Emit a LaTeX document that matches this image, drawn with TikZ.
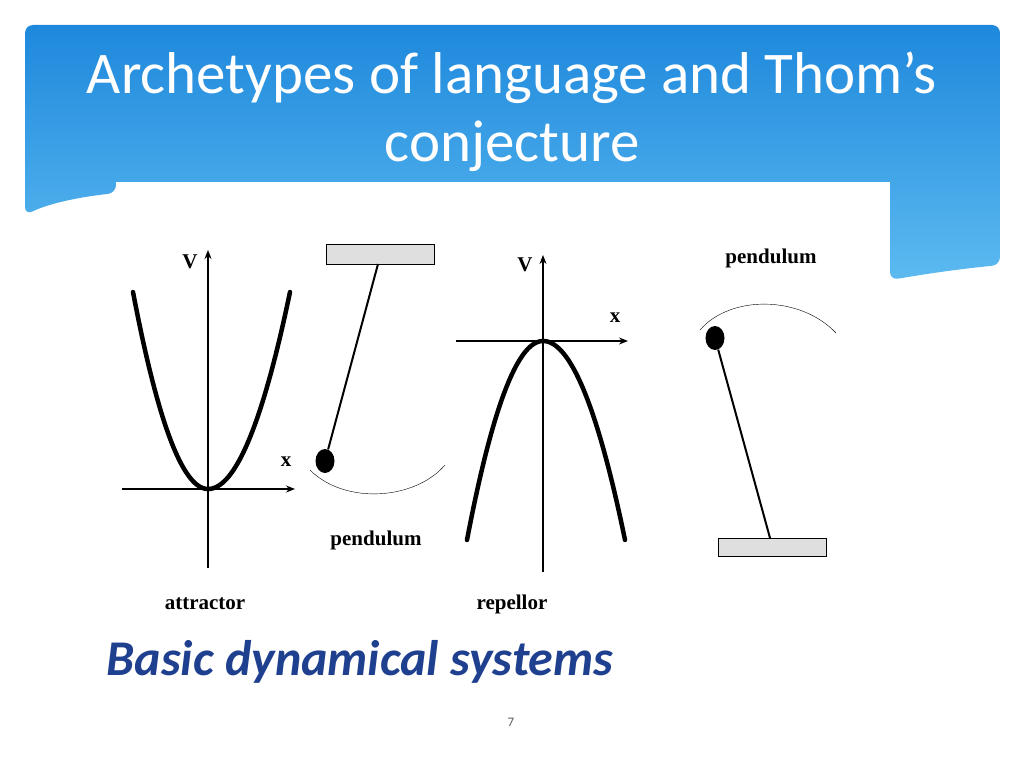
\documentclass[tikz,border=0pt]{standalone}
\usepackage{fontspec}
\setmainfont{Carlito}
\newfontfamily\labelfont{Liberation Serif}
\usetikzlibrary{arrows.meta,shapes.geometric}
\definecolor{headtop}{HTML}{1E88DC}
\definecolor{headbot}{HTML}{5CBAF0}
\definecolor{subblue}{HTML}{1F3F8F}
\tikzset{
  axis/.style={line width=1.4pt, -{Stealth[length=9pt,width=7pt]}},
  curve/.style={line width=4.5pt},
  lbl/.style={font=\labelfont\bfseries\fontsize{21}{21}\selectfont, inner sep=0pt},
  support/.style={draw, fill=gray!25, line width=0.6pt},
  bob/.style={fill=black, ellipse, minimum width=19pt, minimum height=24pt, inner sep=0pt}
}
\begin{document}
\begin{tikzpicture}[x=1pt,y=-1pt]
\useasboundingbox (0,0) rectangle (1024,768);
% header
\shade[top color=headtop, bottom color=headbot, rounded corners=8pt]
  (25,25) -- (1000,25) -- (1000,265) .. controls (950,270) and (920,275) .. (890,280)
  -- (890,182) -- (116,182) -- (116,193) .. controls (80,197) and (50,203) .. (25,215) -- cycle;
\fill[white] (116,182) rectangle (890,290);
\node[text=white, font=\fontsize{59}{68}\selectfont, align=center] (title) at (512,112)
  {Archetypes of language and Thom’s\\conjecture};
% attractor
\draw[axis] (208,568) -- (208,250);
\draw[axis] (122,489) -- (295,489);
\node[lbl] (v1) at (190,262) {V};
\node[lbl] (x1) at (286,462) {x};
\draw[curve, line cap=round, domain=133:208, samples=40] plot (\x, {489-197/5625*(\x-208)*(\x-208)});
\draw[curve, line cap=round, domain=208:290, samples=40] plot (\x, {489-197/6724*(\x-208)*(\x-208)});
\node[lbl] (attr) at (205,604) {attractor};
% pendulum 1
\draw[support] (326,244) rectangle (434,264);
\node[bob] (bob1) at (325,461) {};
\draw[line width=2pt] (378,264) -- (bob1);
\draw (310,470) .. controls (345,505) and (415,500) .. (445,465);
\node[lbl] (pend1) at (376,540) {pendulum};
% repellor
\draw[axis] (543,572) -- (543,255);
\draw[axis] (456,341) -- (628,341);
\node[lbl] (v2) at (525,265) {V};
\node[lbl] (x2) at (615,318) {x};
\draw[curve, line cap=round, domain=467:543, samples=40] plot (\x, {341+199/5776*(\x-543)*(\x-543)});
\draw[curve, line cap=round, domain=543:625, samples=40] plot (\x, {341+199/6724*(\x-543)*(\x-543)});
\node[lbl] (rep) at (512,604) {repellor};
% pendulum 2
\draw[support] (718,538) rectangle (826,556);
\node[bob] (bob2) at (715,338) {};
\draw[line width=2pt] (bob2) -- (770,538);
\draw (700,330) .. controls (730,295) and (800,295) .. (836,333);
\node[lbl] (pend2) at (771,258) {pendulum};
% caption
\node[text=subblue, font=\bfseries\itshape\fontsize{50}{56}\selectfont] (cap) at (360,662) {Basic dynamical systems};
\node[text=gray!70!black, font=\fontsize{13}{14}\selectfont] (page) at (511,722) {7};
\end{tikzpicture}
\end{document}
